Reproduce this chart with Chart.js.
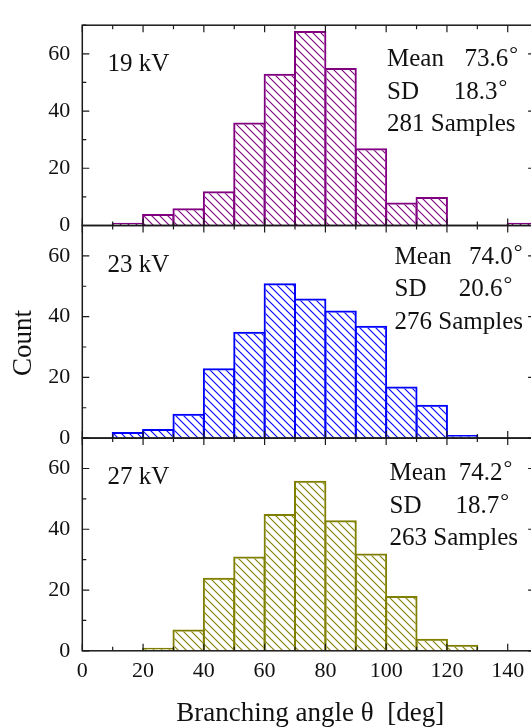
<!DOCTYPE html>
<html>
<head>
<meta charset="utf-8">
<script src="https://cdn.jsdelivr.net/npm/chart.js@4.4.1/dist/chart.umd.min.js"></script>
<style>
  html, body { margin:0; padding:0; background:#fff; overflow:hidden; }
  #wrap { position:relative; width:531px; height:727px; overflow:hidden; }
  #wrap canvas { position:absolute; left:0; top:0; }
</style>
</head>
<body>
<div id="wrap">
  <canvas id="p19" width="545" height="760"></canvas>
  <canvas id="p23" width="545" height="760"></canvas>
  <canvas id="p27" width="545" height="760"></canvas>
</div>
<script>
// histogram bins (deg) and counts per voltage
const binStarts = [10, 20, 30, 40, 50, 60, 70, 80, 90, 100, 110, 120, 130, 140];
const binWidth = 10;
const counts19kV = [1, 4, 6, 12, 36, 53, 68, 55, 27, 8, 10, 0, 0, 1];
const counts23kV = [2, 3, 8, 23, 35, 51, 46, 42, 37, 17, 11, 1, 0, 0];
const counts27kV = [0, 1, 7, 24, 31, 45, 56, 43, 32, 18, 4, 2, 0, 0];

const panelNames = ["19 kV", "23 kV", "27 kV"];
const meanDeg = ["73.6", "74.0", "74.2"];
const sdDeg = ["18.3", "20.6", "18.7"];
const sampleCounts = [281, 276, 263];

const xTickLabels = [0, 20, 40, 60, 80, 100, 120, 140];
const yTickLabels = [0, 20, 40, 60];
const xRange = [0, 150];
const yRange = [0, 70];

Chart.defaults.font.family = "'Liberation Serif', 'Times New Roman', serif";
Chart.defaults.color = "#111";

const W = 545, H = 760;
const plotRight = 538.1;

/* ---------- panels (layout only) ---------- */
const panels = [
  { id: "p19", top: 12.8, bottom: 225.5, color: "#800080", counts: counts19kV,
    txt: { x: 387, meanX: 464.5, sdX: 453.7, rows: [41, 73.5, 106] } },
  { id: "p23", top: 225.5, bottom: 438.1, color: "#0000ff", counts: counts23kV,
    txt: { x: 394.6, meanX: 468.9, sdX: 458.8, rows: [38, 70, 103] } },
  { id: "p27", top: 438.1, bottom: 650.8, color: "#808000", counts: counts27kV,
    txt: { x: 389.5, meanX: 458.8, sdX: 455.4, rows: [42, 75, 107] } },
];

function hatch(canvas, color) {
  const s = 8, tile = document.createElement("canvas");
  tile.width = s; tile.height = s;
  const g = tile.getContext("2d");
  g.strokeStyle = color;
  g.lineWidth = 1.1;
  g.beginPath();
  g.moveTo(-1, -1); g.lineTo(s + 1, s + 1);
  g.moveTo(s - 1, -1); g.lineTo(s + 1, 1);
  g.moveTo(-1, s - 1); g.lineTo(1, s + 1);
  g.stroke();
  return canvas.getContext("2d").createPattern(tile, "repeat");
}

/* ---------- frame, inward ticks and annotations ---------- */
const framePlugin = {
  id: "frame",
  afterDraw(chart, args, opts) {
    const { ctx, chartArea: a, scales: { x, y } } = chart;
    ctx.save();
    ctx.strokeStyle = "#1a1a1a";
    ctx.lineWidth = 1.5;
    ctx.strokeRect(a.left, a.top, a.right - a.left, a.bottom - a.top);

    ctx.lineWidth = 1.2;
    ctx.beginPath();
    for (let v = xRange[0]; v <= xRange[1]; v += 10) {
      const px = x.getPixelForValue(v);
      const len = v % 20 === 0 ? 7 : 4;
      ctx.moveTo(px, a.top); ctx.lineTo(px, a.top + len);
      ctx.moveTo(px, a.bottom); ctx.lineTo(px, a.bottom - len);
    }
    for (let v = yRange[0]; v <= yRange[1]; v += 10) {
      const py = y.getPixelForValue(v);
      const major = v % 20 === 0;
      ctx.moveTo(a.left, py); ctx.lineTo(a.left + (major ? 7 : 4), py);
      ctx.moveTo(a.right, py); ctx.lineTo(a.right - (major ? 10 : 5), py);
    }
    ctx.stroke();

    const t = opts.txt, top = a.top;
    ctx.fillStyle = "#111";
    ctx.textAlign = "left";
    ctx.textBaseline = "alphabetic";
    ctx.font = "25px 'Liberation Serif'";
    ctx.fillText(opts.name, 107.6, top + 46);
    ctx.fillText("Mean", t.x, top + t.rows[0]);
    ctx.fillText(opts.mean, t.meanX, top + t.rows[0]);
    ctx.fillText("SD", t.x, top + t.rows[1]);
    ctx.fillText(opts.sd, t.sdX, top + t.rows[1]);
    ctx.fillText(opts.samples + " Samples", t.x, top + t.rows[2]);
    const mw = ctx.measureText(opts.mean).width;
    const sw = ctx.measureText(opts.sd).width;
    ctx.font = "22px 'Liberation Serif'";
    ctx.fillText("°", t.meanX + mw + 1, top + t.rows[0] - 5);
    ctx.fillText("°", t.sdX + sw + 1, top + t.rows[1] - 5);

    if (opts.yTitle) {
      ctx.save();
      ctx.translate(22, 343);
      ctx.rotate(-Math.PI / 2);
      ctx.textAlign = "center";
      ctx.font = "27px 'Liberation Serif'";
      ctx.fillText(opts.yTitle, 0, 9);
      ctx.restore();
    }
    ctx.restore();
  }
};

panels.forEach((p, i) => {
  const el = document.getElementById(p.id);
  const isLast = i === panels.length - 1;
  new Chart(el, {
    type: "bar",
    data: {
      datasets: [{
        data: binStarts.map((s, k) => ({ x: s + binWidth / 2, y: p.counts[k] || null })),
        backgroundColor: hatch(el, p.color),
        borderColor: p.color,
        borderWidth: 2,
        borderSkipped: "start",
        barPercentage: 1.066,
        categoryPercentage: 1
      }]
    },
    options: {
      responsive: false,
      devicePixelRatio: 1,
      animation: false,
      layout: { padding: { left: 0, right: W - plotRight, top: p.top, bottom: isLast ? 0 : H - p.bottom } },
      plugins: {
        legend: { display: false },
        tooltip: { enabled: false },
        frame: {
          txt: p.txt, name: panelNames[i], mean: meanDeg[i], sd: sdDeg[i],
          samples: sampleCounts[i], yTitle: i === 1 ? "Count" : null
        }
      },
      scales: {
        x: {
          type: "linear", min: xRange[0], max: xRange[1], display: isLast,
          offset: false,
          afterFit: s => { s.height = isLast ? H - p.bottom : 0; },
          afterBuildTicks: s => { s.ticks = xTickLabels.map(v => ({ value: v })); },
          grid: { display: false, drawTicks: false, offset: false },
          border: { display: false },
          ticks: { padding: 7, font: { size: 22 }, color: "#111", maxRotation: 0, autoSkip: false },
          title: { display: true, text: "Branching angle θ  [deg]", font: { size: 27 },
                   padding: { top: 0, bottom: 29.8 }, color: "#111" }
        },
        y: {
          min: yRange[0], max: yRange[1],
          afterFit: s => { s.width = 82.3; },
          afterBuildTicks: s => { s.ticks = yTickLabels.map(v => ({ value: v })); },
          grid: { display: false, drawTicks: false },
          border: { display: false },
          ticks: { padding: 12, font: { size: 22 }, color: "#111" }
        }
      }
    },
    plugins: [framePlugin]
  });
});
</script>
</body>
</html>
